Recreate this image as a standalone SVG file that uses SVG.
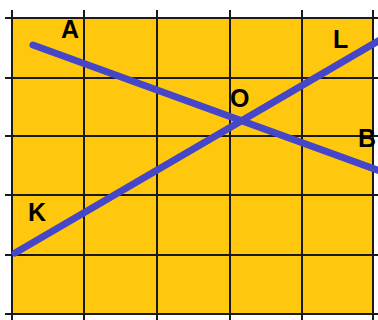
<svg xmlns="http://www.w3.org/2000/svg" width="378" height="320" viewBox="0 0 378 320">
<style>
.g{stroke:#1a1a1a;stroke-width:2;fill:none}
.ln{stroke:#4646C8;stroke-width:7;stroke-linecap:round;fill:none}
.lb{font-family:"Liberation Sans",Arial,sans-serif;font-weight:bold;font-size:25px;fill:#000}
</style>
<rect width="378" height="320" fill="#fff"/>
<rect x="12" y="18" width="361" height="296" fill="#FFC80E"/>
<g id="grid">
<path class="g" d="M12 10V320M84 10V320M157 10V320M230 10V320M302 10V320M373 10V320"/>
<path class="g" d="M5 18H378M5 78H378M5 136H378M5 195H378M5 255H378M5 314H378"/>
</g>
<g id="connectors">
<line class="ln" x1="33" y1="45" x2="380" y2="171"/>
<line class="ln" x1="15" y1="253" x2="380" y2="40"/>
</g>
<g id="A"><text class="lb" x="61" y="38">A</text></g>
<g id="L"><text class="lb" x="333" y="48">L</text></g>
<g id="O"><text class="lb" x="230" y="107">O</text></g>
<g id="B"><text class="lb" x="358" y="147">B</text></g>
<g id="K"><text class="lb" x="28" y="221">K</text></g>
</svg>
